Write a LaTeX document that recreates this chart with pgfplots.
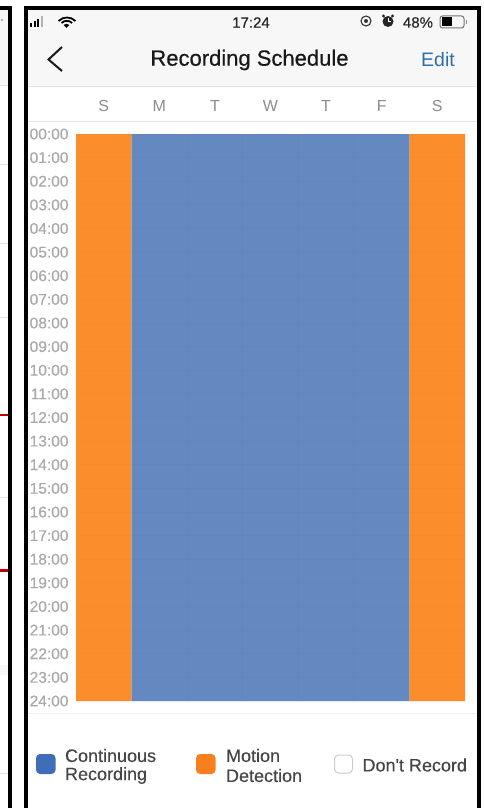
\documentclass[border=0pt]{standalone}
\usepackage{fontspec}
\setmainfont{Liberation Sans}
\newfontfamily\medfont[FakeBold=0.5]{Liberation Sans}
\newfontfamily\lightmed[FakeBold=0.25]{Liberation Sans}
\usepackage{pgfplots}
\usepackage{pgfplotstable}
\pgfplotsset{compat=1.18}

\definecolor{schedblue}{HTML}{6488C0}
\definecolor{schedorange}{HTML}{FB8E2B}
\definecolor{legblue}{HTML}{406DB8}
\definecolor{legorange}{HTML}{F97F1E}
\definecolor{hdrgray}{HTML}{F7F7F7}
\definecolor{sepgray}{HTML}{E4E4E4}
\definecolor{labgray}{HTML}{A9A9A9}
\definecolor{daygray}{HTML}{8C8C8C}
\definecolor{txtgray}{HTML}{454545}
\definecolor{editblue}{HTML}{2F6FA8}
\definecolor{linkred}{HTML}{C00000}

% day centre, recorded hours
\pgfplotstableread{
day hours
0.5 24
6.5 24
}\motiondays
\pgfplotstableread{
day hours
1.5 24
2.5 24
3.5 24
4.5 24
5.5 24
}\continuousdays

\newcommand{\fs}[1]{\fontsize{#1}{#1}\selectfont}

\begin{document}
\begin{tikzpicture}[x=1pt,y=-1pt]
    \path[use as bounding box,fill=white] (0,0) rectangle (483,808);

    % left panel remains
    \fill[hdrgray] (0,9) rectangle (8,85);
    \fill[hdrgray] (0,665) rectangle (8,675);
    \foreach \yy in {85,164,243,317,497,773}
        \draw[sepgray,line width=0.8pt] (0,\yy) -- (8,\yy);
    \fill[linkred] (0,413.5) rectangle (8,416);
    \fill[linkred] (0,569) rectangle (8,571.5);
    \fill[black!40] (2,20) circle (1.2);

    % phone header
    \fill[hdrgray] (27,9) rectangle (477,86);
    \draw[sepgray,line width=1pt] (27,86.5) -- (477,86.5);
    \draw[sepgray,line width=1pt] (27,121.5) -- (477,121.5);
    \draw[sepgray!60,line width=1pt] (27,713) -- (477,713);

    \begin{axis}[
        at={(76pt,-701pt)},
        anchor=south west,
        scale only axis,
        width=389pt,
        height=567pt,
        ybar,
        bar width=1,
        bar shift=0pt,
        xmin=0, xmax=7,
        ymin=0, ymax=24,
        y dir=reverse,
        axis on top,
        axis line style={draw=none},
        major tick length=0pt,
        minor tick length=0pt,
        xtick={0.5,1.5,2.5,3.5,4.5,5.5,6.5},
        xticklabels={S,M,T,W,T,F,S},
        xticklabel pos=upper,
        x tick label style={font=\fs{16},text=daygray,anchor=base,yshift=23pt},
        minor xtick={1,2,3,4,5,6},
        xminorgrids=true,
        minor grid style={black,opacity=0.02,line width=0.8pt},
        ytick={0,1,...,24},
        yticklabels={00:00,01:00,02:00,03:00,04:00,05:00,06:00,07:00,08:00,09:00,10:00,11:00,12:00,13:00,14:00,15:00,16:00,17:00,18:00,19:00,20:00,21:00,22:00,23:00,24:00},
        y tick label style={font=\lightmed\fs{15.5},text=labgray,anchor=east,xshift=-4pt},
        ymajorgrids=true,
        major grid style={black,opacity=0.015,line width=0.8pt},
    ]
    \addplot[fill=schedorange,draw=none] table[x=day,y=hours] {\motiondays};
    \addplot[fill=schedblue,draw=none] table[x=day,y=hours] {\continuousdays};
    \end{axis}

    % status bar
    \fill[black] (30,23) rectangle (32.3,27);
    \fill[black] (33.5,21.5) rectangle (35.8,27);
    \fill[black] (37,19) rectangle (39.3,27);
    \fill[black!30] (41,16) rectangle (43.3,27);
    \draw[black,line width=1.8pt] (58.5,21) arc[start angle=-135,end angle=-45,radius=12];
    \draw[black,line width=1.8pt] (61.5,23) arc[start angle=-135,end angle=-45,radius=7.5];
    \fill[black] (66.5,28) -- (63.5,25) arc[start angle=-135,end angle=-45,radius=4.2] -- cycle;
    \node[font=\medfont\fs{15},text=black!85] at (251,22.5) {17:24};
    \draw[black!80,line width=1.1pt] (366,21) circle (5);
    \fill[black!80] (366,21) circle (2);
    \fill[black!85] (388,21.5) circle (5.5);
    \fill[black!85] (383.5,16) circle (1.6);
    \fill[black!85] (392.5,16) circle (1.6);
    \draw[white,line width=0.8pt] (388,18.5) -- (388,21.5) -- (390.5,21.5);
    \node[font=\lightmed\fs{15},text=black!85] at (418,22.5) {48\%};
    \draw[black!55,line width=1pt,rounded corners=2.5pt] (440,16) rectangle (464,28);
    \fill[black] (441.5,17.5) rectangle (452,26.5);
    \fill[black!45] (466,20) rectangle (467.2,24);

    % title row
    \draw[black!90,line width=2pt] (62,47) -- (48.5,59.5) -- (62,71);
    \node[font=\medfont\fs{22},text=black!90] at (249.5,60) {Recording Schedule};
    \node[font=\fs{19.5},text=editblue] at (438,60) {Edit};

    % legend
    \fill[legblue,rounded corners=4pt] (36,754) rectangle (55.5,774);
    \node[font=\lightmed\fs{18},text=txtgray,anchor=west] at (61.5,755.5) {Continuous};
    \node[font=\lightmed\fs{18},text=txtgray,anchor=west] at (61.5,775.5) {Recording};
    \fill[legorange,rounded corners=4pt] (196,754) rectangle (215.5,774);
    \node[font=\lightmed\fs{18},text=txtgray,anchor=west] at (222.5,755.5) {Motion};
    \node[font=\lightmed\fs{18},text=txtgray,anchor=west] at (222.5,775.5) {Detection};
    \draw[black!20,fill=white,line width=1pt,rounded corners=4pt] (334.5,755) rectangle (352.5,773);
    \node[font=\lightmed\fs{18},text=txtgray,anchor=west] at (359,765) {Don't Record};

    % black frames
    \fill[black] (0,6.5) rectangle (11.5,10);
    \fill[black] (7.5,6.5) rectangle (11.5,808);
    \fill[black] (23.5,6.5) rectangle (480.5,10);
    \fill[black] (23.5,6.5) rectangle (27.5,808);
    \fill[black] (477,6.5) rectangle (480.5,808);
\end{tikzpicture}
\end{document}
